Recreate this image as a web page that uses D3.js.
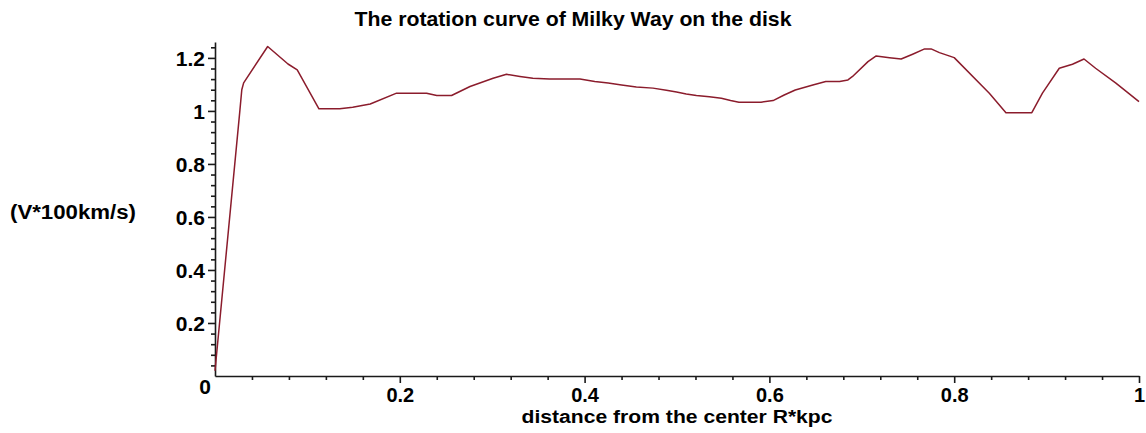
<!DOCTYPE html>
<html>
<head>
<meta charset="utf-8">
<script src="https://cdn.jsdelivr.net/npm/d3@7"></script>
<style>
  html, body { margin: 0; padding: 0; background: #fff; }
  svg { display: block; }
</style>
</head>
<body>
<svg id="chart" width="1146" height="433"></svg>
<script>
// ---- data ----
const titleText = "The rotation curve of Milky Way on the disk";
const xLabel = "distance from the center R*kpc";
const yLabel = "(V*100km/s)";

const radius = [0.0, 0.027, 0.029, 0.031, 0.057, 0.079, 0.089, 0.1125, 0.135, 0.149,
  0.168, 0.1965, 0.229, 0.24, 0.256, 0.276, 0.301, 0.3155, 0.33, 0.344,
  0.362, 0.395, 0.411, 0.4255, 0.44, 0.456, 0.474, 0.4885, 0.4995,
  0.51, 0.521, 0.535, 0.548, 0.558, 0.567, 0.591, 0.604, 0.616, 0.628,
  0.647, 0.661, 0.676, 0.685, 0.69, 0.7067, 0.7156, 0.73, 0.7426, 0.755,
  0.768, 0.775, 0.784, 0.8, 0.838, 0.856, 0.884, 0.8955, 0.9137, 0.928,
  0.9405, 0.953, 0.975, 1.0];
const velocity = [0.02, 1.004, 1.08, 1.106, 1.243, 1.177, 1.155, 1.008, 1.008, 1.014,
  1.026, 1.067, 1.067, 1.058, 1.058, 1.092, 1.123, 1.138, 1.13, 1.123,
  1.12, 1.12, 1.111, 1.105, 1.098, 1.09, 1.086, 1.078, 1.071,
  1.064, 1.058, 1.053, 1.048, 1.039, 1.033, 1.033, 1.039, 1.06, 1.079,
  1.098, 1.111, 1.111, 1.117, 1.13, 1.186, 1.2075, 1.201, 1.196, 1.214,
  1.234, 1.234, 1.22, 1.201, 1.067, 0.9935, 0.9935, 1.067, 1.161, 1.176,
  1.196, 1.161, 1.105, 1.035];

const xMajorTicks = [0.2, 0.4, 0.6, 0.8, 1];
const xTickLabels = ["0.2", "0.4", "0.6", "0.8", "1"];
const yMajorTicks = [0.2, 0.4, 0.6, 0.8, 1, 1.2];
const yTickLabels = ["0.2", "0.4", "0.6", "0.8", "1", "1.2"];
const originLabel = "0";
const xMinorStep = 0.04;
const yMinorStep = 0.04;

// ---- layout ----
const svg = d3.select("#chart");
const x = d3.scaleLinear().domain([0, 1]).range([215, 1139]);
const y = d3.scaleLinear().domain([0, 1.26]).range([376, 42]);

const axisColor = "#1a1a1a";
const lineColor = "#8b1c2c";
const numFont = "'Liberation Sans', Arial, sans-serif";
const textFont = "'Liberation Sans Narrow', 'Liberation Sans', Arial, sans-serif";

const xMinor = d3.range(0, 1.0001, xMinorStep).map(v => +v.toFixed(4))
  .filter(v => v > 0 && !xMajorTicks.some(m => Math.abs(m - v) < 1e-6));
const yMinor = d3.range(0, 1.2601, yMinorStep).map(v => +v.toFixed(4))
  .filter(v => v > 0 && !yMajorTicks.some(m => Math.abs(m - v) < 1e-6));

// X axis
const gx = svg.append("g").attr("transform", `translate(0,${y(0)})`);
gx.call(d3.axisBottom(x).tickValues(xMajorTicks)
  .tickFormat((d, i) => xTickLabels[i]).tickSize(7).tickSizeOuter(0).tickPadding(5));
const gxm = svg.append("g").attr("transform", `translate(0,${y(0)})`);
gxm.call(d3.axisBottom(x).tickValues(xMinor).tickFormat("").tickSize(4).tickSizeOuter(0));
gxm.select(".domain").remove();

// Y axis
const gy = svg.append("g").attr("transform", `translate(${x(0)},0)`);
gy.call(d3.axisLeft(y).tickValues(yMajorTicks)
  .tickFormat((d, i) => yTickLabels[i]).tickSize(7).tickSizeOuter(0).tickPadding(3));
const gym = svg.append("g").attr("transform", `translate(${x(0)},0)`);
gym.call(d3.axisLeft(y).tickValues(yMinor).tickFormat("").tickSize(4).tickSizeOuter(0));
gym.select(".domain").remove();

svg.selectAll(".domain, .tick line")
  .attr("stroke", axisColor).attr("stroke-width", 1.6);
svg.selectAll(".tick text")
  .attr("fill", "#000")
  .style("font-family", numFont)
  .style("font-weight", "bold")
  .style("font-size", "21px");
gy.selectAll(".tick text").attr("dy", "0.36em");
gx.selectAll(".tick text").attr("dy", "0.72em").style("font-size", "20px");

// origin label
svg.append("text")
  .attr("x", x(0) - 10).attr("y", y(0) + 18)
  .attr("text-anchor", "middle")
  .style("font-family", numFont).style("font-weight", "bold").style("font-size", "21px")
  .text(originLabel);

// line
const pts = radius.map((r, i) => [r, velocity[i]]);
svg.append("path")
  .datum(pts)
  .attr("fill", "none")
  .attr("stroke", lineColor)
  .attr("stroke-width", 1.5)
  .attr("stroke-linejoin", "round")
  .attr("d", d3.line().x(d => x(d[0])).y(d => y(d[1])));

// title
svg.append("text")
  .attr("x", 573).attr("y", 26)
  .attr("text-anchor", "middle")
  .attr("textLength", 437).attr("lengthAdjust", "spacingAndGlyphs")
  .style("font-family", textFont).style("font-weight", "bold").style("font-size", "21px")
  .text(titleText);

// x label
svg.append("text")
  .attr("x", 677).attr("y", 423)
  .attr("text-anchor", "middle")
  .attr("textLength", 311).attr("lengthAdjust", "spacingAndGlyphs")
  .style("font-family", textFont).style("font-weight", "bold").style("font-size", "18px")
  .text(xLabel);

// y label
svg.append("text")
  .attr("x", 10).attr("y", 219)
  .attr("text-anchor", "start")
  .attr("textLength", 126).attr("lengthAdjust", "spacingAndGlyphs")
  .style("font-family", textFont).style("font-weight", "bold").style("font-size", "20px")
  .text(yLabel);
</script>
</body>
</html>
